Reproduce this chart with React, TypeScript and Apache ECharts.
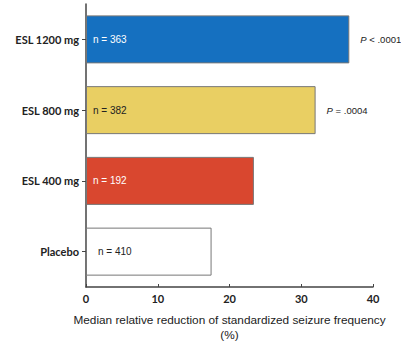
import React, { useEffect, useRef } from "react";
import * as echarts from "echarts";

const categories = ["ESL 1200 mg", "ESL 800 mg", "ESL 400 mg", "Placebo"];
const reduction = [36.7, 32.0, 23.4, 17.5];
const nLabels = ["n = 363", "n = 382", "n = 192", "n = 410"];
const pLabels = ["P < .0001", "P = .0004", "", ""];
const barColors = ["#1570c0", "#e9cf63", "#d9472f", "#ffffff"];
const nLabelColors = ["#ffffff", "#222222", "#ffffff", "#222222"];
const xTicks = [0, 10, 20, 30, 40];

export default function App() {
  const ref = useRef<HTMLDivElement>(null);
  useEffect(() => {
    if (!ref.current) return;
    const chart = echarts.init(ref.current, undefined, { renderer: "svg" });
    chart.setOption({
      animation: false,
      backgroundColor: "#ffffff",
      grid: { left: 86, right: 28, top: 4, bottom: 55, containLabel: false },
      xAxis: {
        type: "value",
        min: xTicks[0],
        max: xTicks[xTicks.length - 1],
        interval: 10,
        splitLine: { show: false },
        axisLine: { show: true, lineStyle: { color: "#444", width: 1.5 } },
        axisTick: { show: true, inside: true, length: 3, lineStyle: { color: "#444" } },
        axisLabel: { color: "#222", fontFamily: "Lato", fontWeight: "bold", fontSize: 11, margin: 6 },
        name: "Median relative reduction of standardized seizure frequency\n(%)",
        nameLocation: "middle",
        nameGap: 25,
        nameTextStyle: { fontFamily: "Liberation Sans", fontSize: 11.8, color: "#222", lineHeight: 15 },
      },
      yAxis: {
        type: "category",
        data: categories,
        inverse: true,
        axisLine: { show: true, lineStyle: { color: "#444", width: 1.5 } },
        axisTick: { show: true, alignWithLabel: true, length: 4, lineStyle: { color: "#444" } },
        axisLabel: { color: "#222", fontFamily: "Lato", fontWeight: "bold", fontSize: 11, margin: 7 },
      },
      series: [
        {
          type: "bar",
          barWidth: 48,
          data: reduction.map((v, i) => ({
            value: v,
            itemStyle: { color: barColors[i], borderColor: "#777", borderWidth: 1 },
            label: {
              show: true,
              position: "insideLeft",
              distance: i === 3 ? 12 : 7,
              formatter: nLabels[i],
              color: nLabelColors[i],
              fontFamily: "Liberation Sans",
              fontSize: 10,
            },
          })),
          z: 2,
        },
        {
          type: "bar",
          barWidth: 48,
          barGap: "-100%",
          silent: true,
          data: reduction.map((v, i) => ({
            value: v,
            itemStyle: { color: "rgba(0,0,0,0)" },
            label: {
              show: pLabels[i] !== "",
              position: "right",
              distance: 11,
              formatter: pLabels[i] ? "{p|P}{t|" + pLabels[i].slice(1) + "}" : "",
              rich: {
                p: { fontStyle: "italic", fontFamily: "Liberation Sans", fontSize: 9.5, color: "#222" },
                t: { fontFamily: "Liberation Sans", fontSize: 9.5, color: "#222" },
              },
            },
          })),
          z: 3,
        },
      ],
    });
    return () => chart.dispose();
  }, []);
  return <div ref={ref} style={{ width: 401, height: 347, position: "absolute", left: 0, top: 0 }} />;
}
